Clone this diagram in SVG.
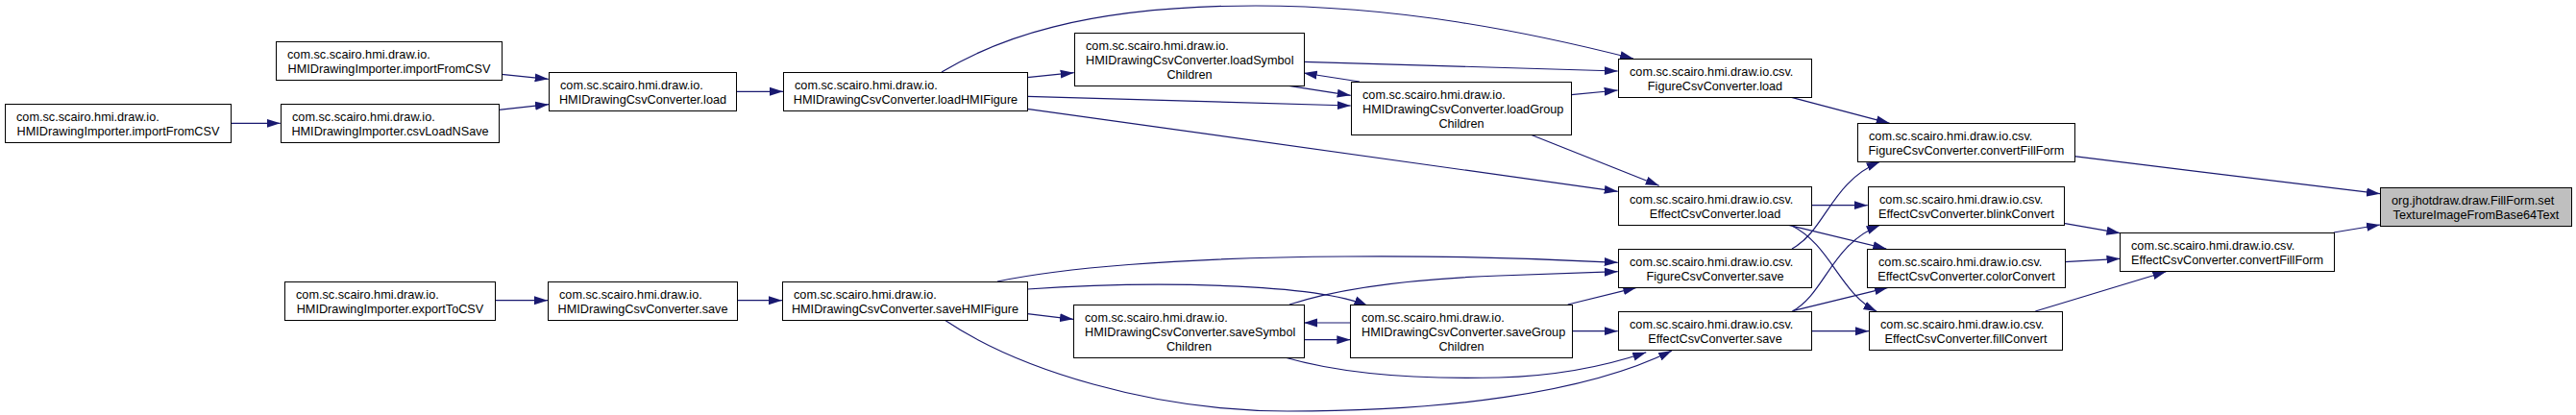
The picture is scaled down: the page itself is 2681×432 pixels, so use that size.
<svg xmlns="http://www.w3.org/2000/svg" width="2681" height="432" viewBox="0 0 2681 432">
<style>
.n rect{fill:#fff;stroke:#000;stroke-width:1}
.n.g rect{fill:#bfbfbf}
text{font-family:"Liberation Sans",Arial,sans-serif;font-size:12.7px;fill:#000}
.m{text-anchor:middle}
#edges path{fill:none;stroke:#191970;stroke-width:1.2;marker-end:url(#a)}
</style>
<defs>
<marker id="a" markerWidth="14" markerHeight="10" refX="14" refY="5" orient="auto" markerUnits="userSpaceOnUse" viewBox="0 0 14 10"><path d="M0,0.5 L14,5 L0,9.5 z" fill="#191970"/></marker>
</defs>
<rect width="2681" height="432" fill="#fff"/>
<g id="edges">
<path d="M240,128.3 L291.7,128.3"/>
<path d="M522,77.3 L570.7,82.3"/>
<path d="M519,114.3 L571,108.7"/>
<path d="M515,312.7 L570,312.7"/>
<path d="M766,95.3 L815,95.3"/>
<path d="M767,312.7 L814,312.7"/>
<path d="M1069,80.7 L1117.7,75.7"/>
<path d="M1069,100.3 L1405.7,110"/>
<path d="M1069,113.3 L1683.7,199.3"/>
<path d="M980,75 C1035,42 1125,6 1307,6 C1455,6 1590,33 1700,61"/>
<path d="M1357,64.3 L1683.7,74"/>
<path d="M1341.7,89.3 L1405.7,99.3"/>
<path d="M1415,85 L1356.7,76"/>
<path d="M1635.3,98.7 L1683.7,94"/>
<path d="M1593.3,140.3 L1726.7,193.3"/>
<path d="M1861.7,100.7 L1966.7,128.3"/>
<path d="M2158.6,162.7 L2477,201.7"/>
<path d="M1885,213.7 L1943.7,213.7"/>
<path d="M1861.7,234.3 L1963.3,259"/>
<path d="M1865,235 C1905,255 1915,305 1953.3,324.3"/>
<path d="M1865,259 C1900,240 1905,190 1956.7,168.3"/>
<path d="M1865,324.3 C1900,305 1905,255 1956.7,234.3"/>
<path d="M1866.7,323.3 L1965,299.3"/>
<path d="M1885,344.7 L1945,344.7"/>
<path d="M2147.8,232.3 L2206.5,242.7"/>
<path d="M2148.6,272.7 L2206.5,269.3"/>
<path d="M2118.3,324 L2254.4,282.7"/>
<path d="M2428.8,242 L2477,234"/>
<path d="M1069.3,326.7 L1117,332.3"/>
<path d="M1069.3,301 C1200,292 1370,295 1423.3,318.3"/>
<path d="M1038,293 C1100,280 1220,268 1400,267 C1520,266 1620,270 1683.7,273.3"/>
<path d="M1342,317 C1400,298 1480,290 1560,287 C1610,285 1650,284 1683.7,282.7"/>
<path d="M1357,353.7 L1405.3,353.7"/>
<path d="M1405.3,336 L1357,336"/>
<path d="M1631.7,317 L1703.3,299.3"/>
<path d="M1636,344.7 L1683.7,344.7"/>
<path d="M1337,372 C1400,390 1480,395 1560,393 C1630,391 1680,378 1713.3,366.7"/>
<path d="M983,333 C1060,385 1200,428 1340,428 C1500,428 1650,410 1740,365"/>
</g>
<g id="importFromCSV_top" class="n"><rect x="287.5" y="43.5" width="235" height="40"/><text x="299" y="60.5">com.sc.scairo.hmi.draw.io.</text><text class="m" x="405" y="75.5">HMIDrawingImporter.importFromCSV</text></g>
<g id="importFromCSV_left" class="n"><rect x="5.5" y="108.5" width="235" height="40"/><text x="17" y="125.5">com.sc.scairo.hmi.draw.io.</text><text class="m" x="123" y="140.5">HMIDrawingImporter.importFromCSV</text></g>
<g id="csvLoadNSave" class="n"><rect x="292.5" y="108.5" width="227" height="40"/><text x="304" y="125.5">com.sc.scairo.hmi.draw.io.</text><text class="m" x="406" y="140.5">HMIDrawingImporter.csvLoadNSave</text></g>
<g id="exportToCSV" class="n"><rect x="296.5" y="293.5" width="219" height="40"/><text x="308" y="310.5">com.sc.scairo.hmi.draw.io.</text><text class="m" x="406" y="325.5">HMIDrawingImporter.exportToCSV</text></g>
<g id="conv_load" class="n"><rect x="571.5" y="75.5" width="195" height="40"/><text x="583" y="92.5">com.sc.scairo.hmi.draw.io.</text><text class="m" x="669" y="107.5">HMIDrawingCsvConverter.load</text></g>
<g id="conv_save" class="n"><rect x="570.5" y="293.5" width="197" height="40"/><text x="582" y="310.5">com.sc.scairo.hmi.draw.io.</text><text class="m" x="669" y="325.5">HMIDrawingCsvConverter.save</text></g>
<g id="loadHMIFigure" class="n"><rect x="815.5" y="75.5" width="254" height="40"/><text x="827" y="92.5">com.sc.scairo.hmi.draw.io.</text><text class="m" x="942.5" y="107.5">HMIDrawingCsvConverter.loadHMIFigure</text></g>
<g id="saveHMIFigure" class="n"><rect x="814.5" y="293.5" width="255" height="40"/><text x="826" y="310.5">com.sc.scairo.hmi.draw.io.</text><text class="m" x="942" y="325.5">HMIDrawingCsvConverter.saveHMIFigure</text></g>
<g id="loadSymbolChildren" class="n"><rect x="1118.5" y="34.5" width="239" height="55"/><text x="1130" y="51.5">com.sc.scairo.hmi.draw.io.</text><text x="1130" y="66.5">HMIDrawingCsvConverter.loadSymbol</text><text class="m" x="1238" y="81.5">Children</text></g>
<g id="loadGroupChildren" class="n"><rect x="1406.5" y="85.5" width="229" height="55"/><text x="1418" y="102.5">com.sc.scairo.hmi.draw.io.</text><text x="1418" y="117.5">HMIDrawingCsvConverter.loadGroup</text><text class="m" x="1521" y="132.5">Children</text></g>
<g id="saveSymbolChildren" class="n"><rect x="1117.5" y="317.5" width="240" height="55"/><text x="1129" y="334.5">com.sc.scairo.hmi.draw.io.</text><text x="1129" y="349.5">HMIDrawingCsvConverter.saveSymbol</text><text class="m" x="1237.5" y="364.5">Children</text></g>
<g id="saveGroupChildren" class="n"><rect x="1405.5" y="317.5" width="231" height="55"/><text x="1417" y="334.5">com.sc.scairo.hmi.draw.io.</text><text x="1417" y="349.5">HMIDrawingCsvConverter.saveGroup</text><text class="m" x="1521" y="364.5">Children</text></g>
<g id="fig_load" class="n"><rect x="1684.5" y="61.5" width="201" height="40"/><text x="1696" y="78.5">com.sc.scairo.hmi.draw.io.csv.</text><text class="m" x="1785" y="93.5">FigureCsvConverter.load</text></g>
<g id="eff_load" class="n"><rect x="1684.5" y="194.5" width="201" height="40"/><text x="1696" y="211.5">com.sc.scairo.hmi.draw.io.csv.</text><text class="m" x="1785" y="226.5">EffectCsvConverter.load</text></g>
<g id="fig_save" class="n"><rect x="1684.5" y="259.5" width="201" height="40"/><text x="1696" y="276.5">com.sc.scairo.hmi.draw.io.csv.</text><text class="m" x="1785" y="291.5">FigureCsvConverter.save</text></g>
<g id="eff_save" class="n"><rect x="1684.5" y="324.5" width="201" height="40"/><text x="1696" y="341.5">com.sc.scairo.hmi.draw.io.csv.</text><text class="m" x="1785" y="356.5">EffectCsvConverter.save</text></g>
<g id="fig_convertFillForm" class="n"><rect x="1933.5" y="128.5" width="226" height="40"/><text x="1945" y="145.5">com.sc.scairo.hmi.draw.io.csv.</text><text class="m" x="2046.5" y="160.5">FigureCsvConverter.convertFillForm</text></g>
<g id="blinkConvert" class="n"><rect x="1944.5" y="194.5" width="204" height="40"/><text x="1956" y="211.5">com.sc.scairo.hmi.draw.io.csv.</text><text class="m" x="2046.5" y="226.5">EffectCsvConverter.blinkConvert</text></g>
<g id="colorConvert" class="n"><rect x="1943.5" y="259.5" width="206" height="40"/><text x="1955" y="276.5">com.sc.scairo.hmi.draw.io.csv.</text><text class="m" x="2046.5" y="291.5">EffectCsvConverter.colorConvert</text></g>
<g id="fillConvert" class="n"><rect x="1945.5" y="324.5" width="201" height="40"/><text x="1957" y="341.5">com.sc.scairo.hmi.draw.io.csv.</text><text class="m" x="2046" y="356.5">EffectCsvConverter.fillConvert</text></g>
<g id="eff_convertFillForm" class="n"><rect x="2206.5" y="242.5" width="223" height="40"/><text x="2218" y="259.5">com.sc.scairo.hmi.draw.io.csv.</text><text class="m" x="2318" y="274.5">EffectCsvConverter.convertFillForm</text></g>
<g id="fillForm" class="n g"><rect x="2477.5" y="195.5" width="199" height="40"/><text x="2489" y="212.5">org.jhotdraw.draw.FillForm.set</text><text class="m" x="2577" y="227.5">TextureImageFromBase64Text</text></g>
</svg>
